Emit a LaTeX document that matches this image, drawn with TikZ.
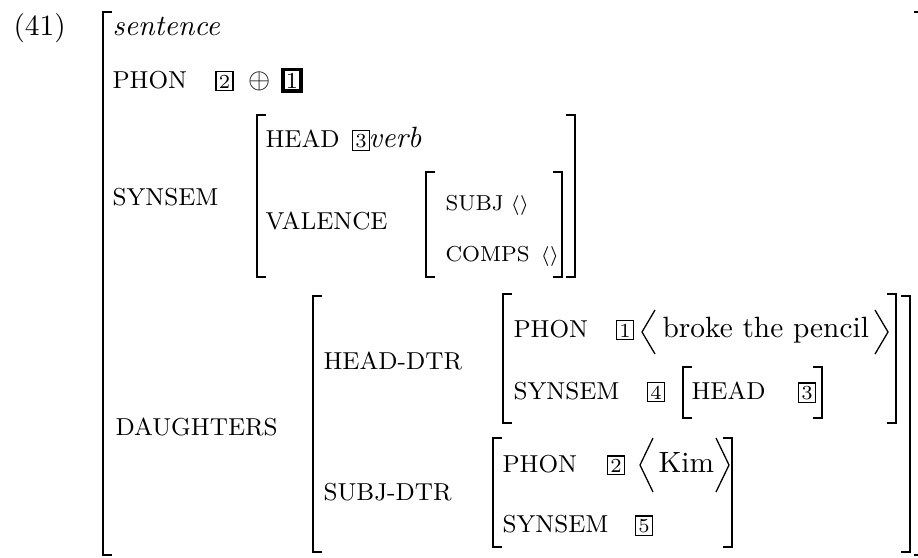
\documentclass[tikz,border=0pt]{standalone}
\usepackage{amsmath,amssymb}
\tikzset{
% feature names in small capitals, values in roman
feat/.style={anchor=base west,inner sep=0pt,font=\fontsize{8.6}{10}\selectfont},
small feat/.style={feat,font=\fontsize{7.6}{9}\selectfont},
val/.style={anchor=base west,inner sep=0pt},
tag/.style={draw,line width=0.4pt,inner sep=1pt,anchor=base,font=\scriptsize},
bold tag/.style={tag,line width=1.2pt,inner sep=1.1pt,font=\footnotesize},
brk/.style={line width=0.75pt},
ang/.style={line width=0.45pt}
}
% square brackets of an AVM: x, top, bottom
\newcommand\avmopen[3]{\draw[brk] (#1+9,#2) -- (#1,#2) -- (#1,#3) -- (#1+9,#3);}
\newcommand\avmclose[3]{\draw[brk] (#1-9,#2) -- (#1,#2) -- (#1,#3) -- (#1-9,#3);}

\begin{document}
\begin{tikzpicture}[x=0.351pt,y=-0.351pt,font=\fontsize{10.3}{12}\selectfont]
\useasboundingbox (0,0) rectangle (918,557);
% outer matrix
\node[val] (ex) at (13,35) {(41)};
\avmopen{103}{12}{555}
\avmclose{923}{12}{555}
\node[val] (sent) at (112,35) {\itshape sentence};
\node[feat] (phon) at (112,88) {PHON};
\node[tag] (t2) at (224.5,88) {2};
\node[anchor=base,inner sep=0pt] (plus) at (260,88) {$\oplus$};
\node[bold tag] (t1) at (292,88) {1};
% SYNSEM value
\node[feat] (synsem) at (112,205) {SYNSEM};
\avmopen{257}{115}{277}
\avmclose{575}{115}{277}
\node[feat] (head) at (265,147) {HEAD};
\node[tag] (t3) at (361,147) {3};
\node[val] (verb) at (368,147) {\itshape verb};
\node[feat] (valence) at (265,229) {VALENCE};
\avmopen{426}{172}{277}
\avmclose{562}{172}{277}
\node[small feat] (subj) at (445,210) {SUBJ};
\node[val,font=\fontsize{7}{8}\selectfont] (subjv) at (510,210) {$\langle\rangle$};
\node[small feat] (comps) at (445,261) {COMPS};
\node[val,font=\fontsize{7}{8}\selectfont] (compsv) at (540,261) {$\langle\rangle$};
% DAUGHTERS value
\node[feat] (dtrs) at (115,435) {DAUGHTERS};
\avmopen{313}{296}{552}
\avmclose{910}{296}{552}
\node[feat] (hdtr) at (323,369) {HEAD-DTR};
\node[feat] (sdtr) at (323,500) {SUBJ-DTR};
% head daughter
\avmopen{503}{294}{423}
\avmclose{896}{294}{423}
\node[feat] (hphon) at (513,337) {PHON};
\node[tag] (h1) at (625,337) {1};
\draw[ang] (655,310) -- (642,332) -- (655,354);
\node[val] (broke) at (662,337) {broke the pencil};
\draw[ang] (875,310) -- (888,332) -- (875,354);
\node[feat] (hsyn) at (513,399) {SYNSEM};
\node[tag] (h4) at (656,399) {4};
\avmopen{683}{367}{418}
\avmclose{822}{367}{418}
\node[feat] (hhead) at (691,399) {HEAD};
\node[tag] (h3) at (807,399) {3};
% subject daughter
\avmopen{493}{438}{547}
\avmclose{732}{438}{547}
\node[feat] (sphon) at (502,472) {PHON};
\node[tag] (s2) at (616,472) {2};
\draw[ang] (653,438) -- (640,465) -- (653,492);
\node[val] (kim) at (658,472) {Kim};
\draw[ang] (716,438) -- (729,465) -- (716,492);
\node[feat] (ssyn) at (502,532) {SYNSEM};
\node[tag] (s5) at (644,532) {5};
\end{tikzpicture}
\end{document}
